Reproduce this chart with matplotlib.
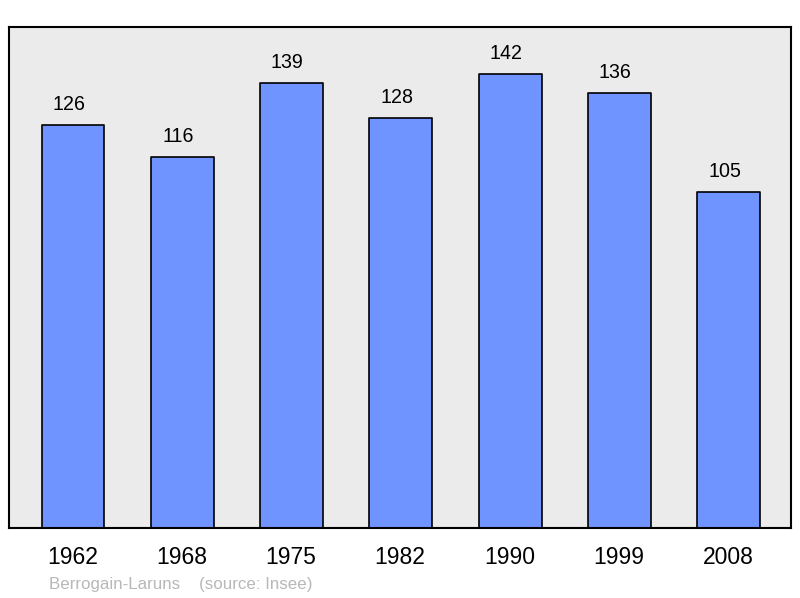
import matplotlib
matplotlib.use("Agg")
import matplotlib.pyplot as plt

years = ["1962", "1968", "1975", "1982", "1990", "1999", "2008"]
population = [126, 116, 139, 128, 142, 136, 105]

fig = plt.figure(figsize=(8.0, 5.98), dpi=100)
W, H = 800, 598
ax = fig.add_axes([9 / W, (H - 528) / H, 782 / W, 501 / H])
ax.set_facecolor("#ebebeb")
x = list(range(len(years)))
bars = ax.bar(x, population, width=0.575, color="#7094ff", edgecolor="black", linewidth=1.2, zorder=2)
for b in bars:
    b.set_joinstyle("round")
ax.set_xlim(-0.585, 6.57)
ax.set_ylim(0, 156.6)
for xi, v in zip(x, population):
    ax.annotate(str(v), (xi, v), xytext=(-3, 14.8), textcoords="offset points",
                ha="center", va="center", fontsize=14.1, family="Liberation Sans")
ax.set_xticks(x)
ax.set_xticklabels([])
for xi, yr in zip(x, years):
    ax.annotate(yr, (xi, 0), xytext=(-0.5, -(557 - 528) * 0.72), textcoords="offset points",
                ha="center", va="center", fontsize=16.5, family="Liberation Sans",
                annotation_clip=False)
ax.tick_params(axis="x", length=0)
ax.set_yticks([])
for s in ax.spines.values():
    s.set_linewidth(1.5)
    s.set_color("black")
fig.text(49 / W, 1 - 585 / H, "Berrogain-Laruns    (source: Insee)", color="#b8b8b8",
         fontsize=12.2, family="Liberation Sans", va="center", ha="left")
fig.savefig("out.png", dpi=100, facecolor="white")
